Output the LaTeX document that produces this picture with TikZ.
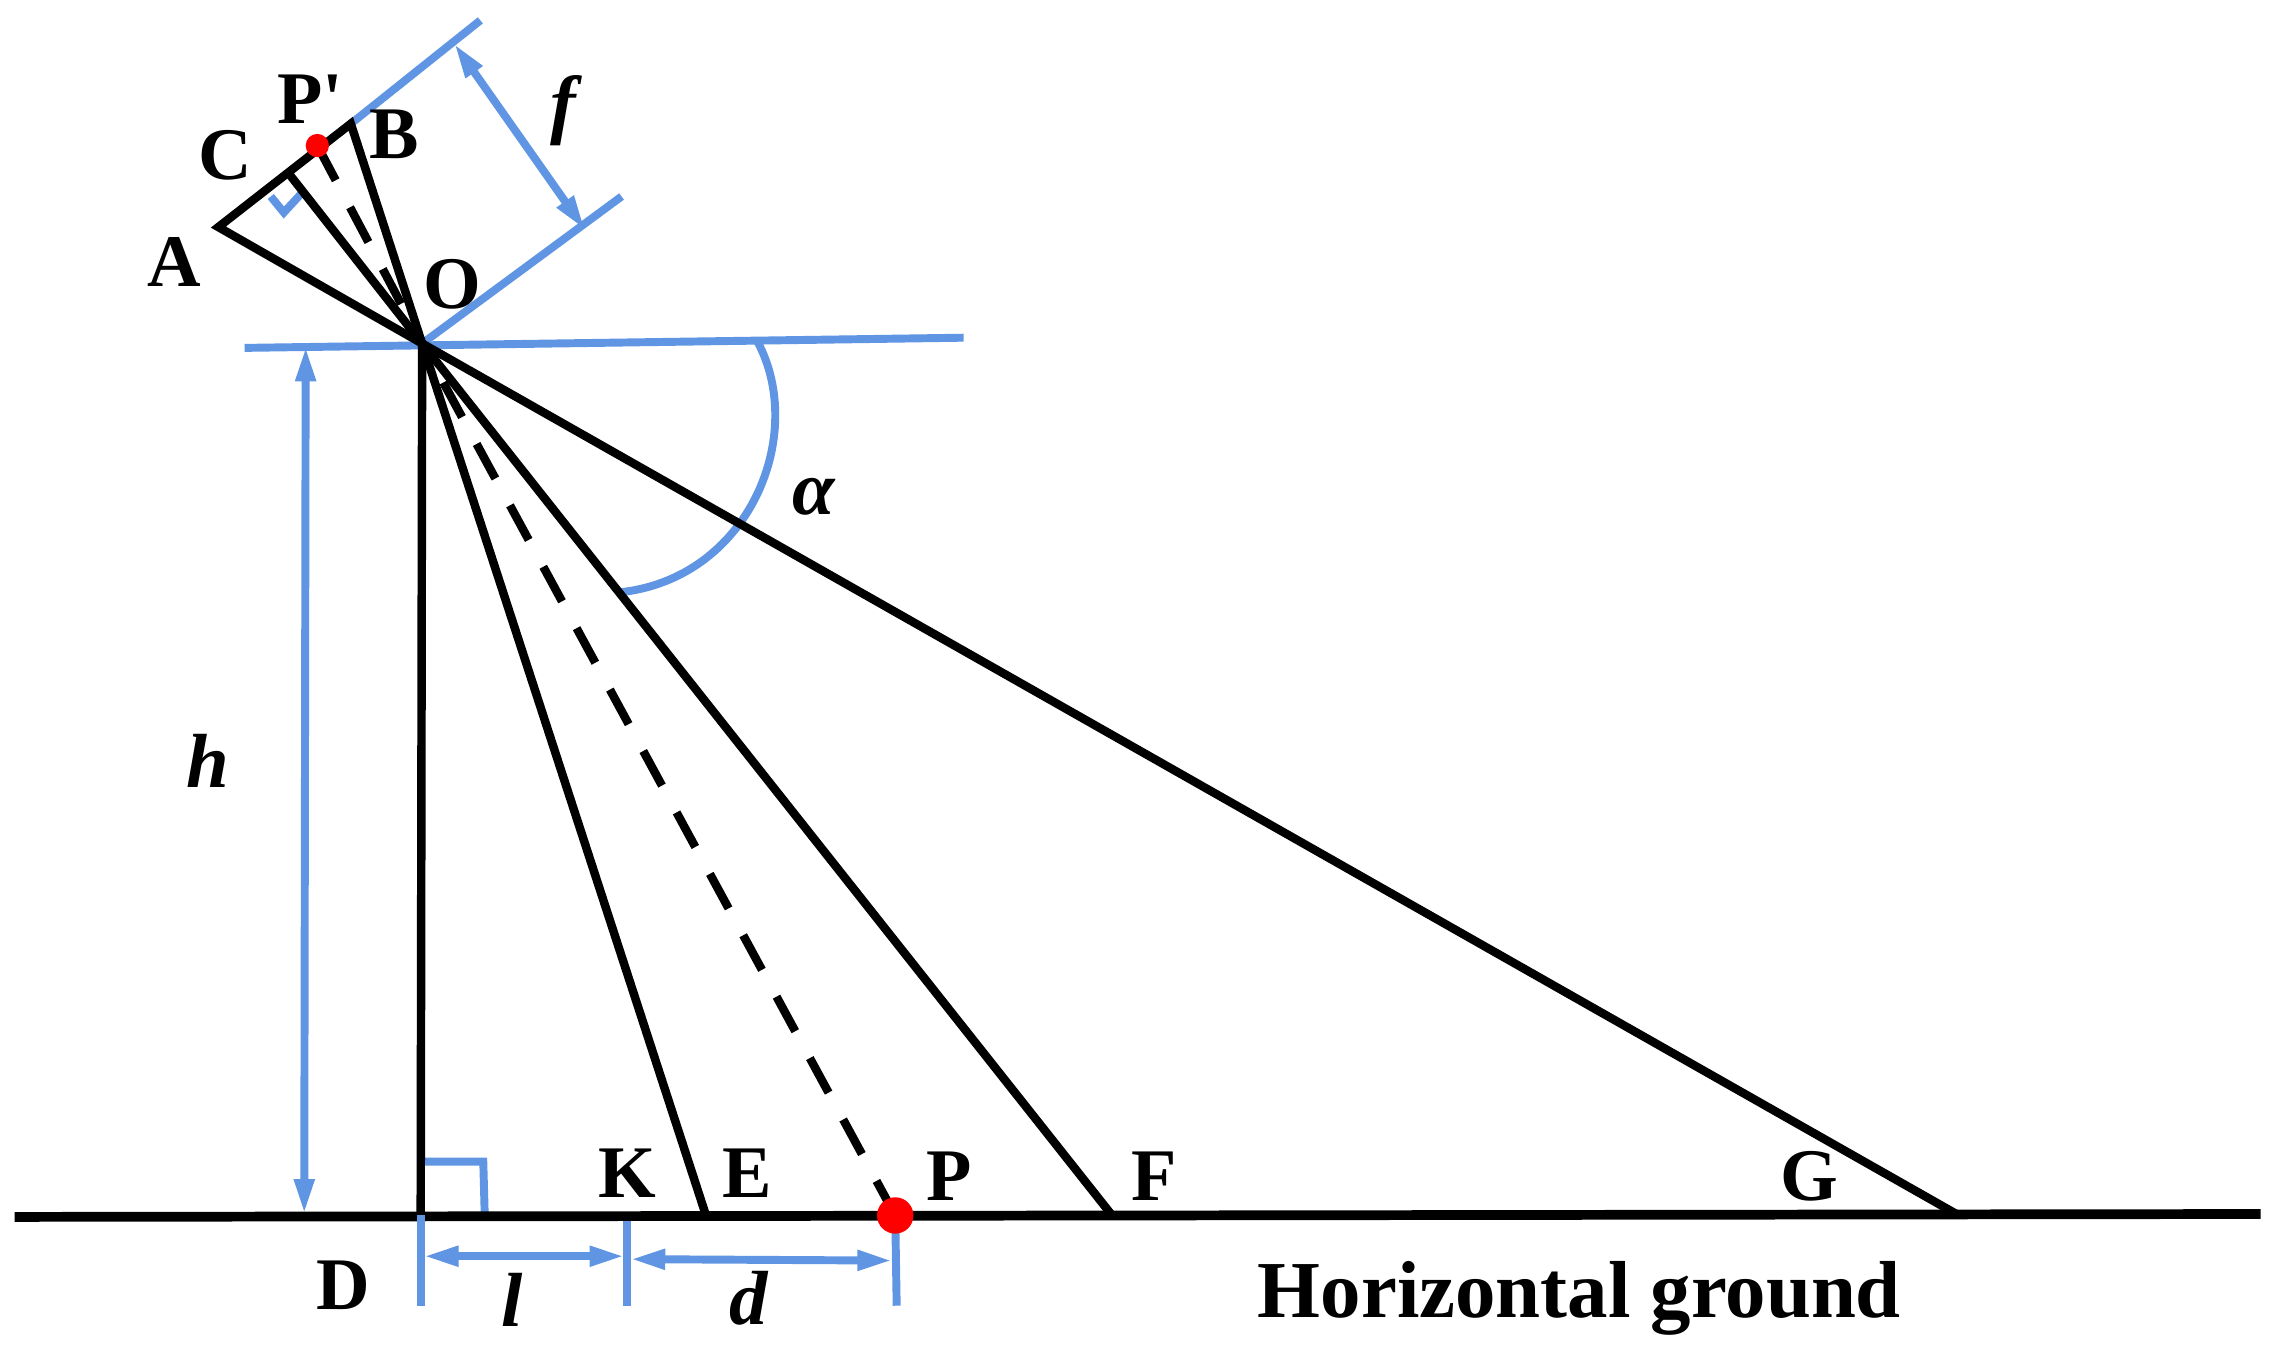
\documentclass[tikz,border=0pt]{standalone}
\usepackage{fontspec}
\setmainfont{Liberation Serif}
\usetikzlibrary{arrows.meta}
\definecolor{dimblue}{HTML}{6095E3}
\tikzset{
 ray/.style={line width=1.65pt,black},
 dash ray/.style={ray,dash pattern=on 2.7mm off 2.1mm},
 dimline/.style={line width=1.55pt,dimblue},
 dimarrow/.style={dimline,{Triangle[length=2.4mm,width=1.3mm]}-{Triangle[length=2.4mm,width=1.3mm]}},
 lbl/.style={inner sep=0pt,font=\fontsize{14.5}{18}\selectfont\bfseries},
 qty/.style={inner sep=0pt,font=\fontsize{15}{18}\selectfont\bfseries\itshape}
}
\begin{document}
\begin{tikzpicture}
 \useasboundingbox (0,-.04) rectangle (15.67,9.28);
 \coordinate (O) at (2.90,6.92);
 \coordinate (A) at (1.50,7.72);
 \coordinate (B) at (2.41,8.43);
 \coordinate (C) at (1.99,8.08);
 \coordinate (Pp) at (2.18,8.28);
 \coordinate (D) at (2.89,.93);
 \coordinate (K) at (4.31,.93);
 \coordinate (E) at (4.85,.93);
 \coordinate (P) at (6.15,.93);
 \coordinate (F) at (7.64,.93);
 \coordinate (G) at (13.44,.94);
 \coordinate (gl) at (.10,.92);
 \coordinate (gr) at (15.53,.94);
 % blue guides
 \coordinate (Btop) at (3.30,9.14);
 \coordinate (Oend) at (4.27,7.93);
 \coordinate (hl) at (1.68,6.89);
 \coordinate (hr) at (6.62,6.96);
 \coordinate (ftop) at (3.12,8.98);
 \coordinate (fbot) at (4.02,7.70);
 \coordinate (htop) at (2.10,6.90);
 \coordinate (hbot) at (2.09,.94);
 \coordinate (Dt) at (2.89,.31);
 \coordinate (Kt) at (4.31,.31);
 \coordinate (Pt) at (6.16,.31);

 \draw[dimline] (B) -- (Btop);
 \draw[dimline] (O) -- (Oend);
 \draw[dimline] (hl) -- (hr);
 \draw[dimarrow] (ftop) -- (fbot);
 \draw[dimarrow] (htop) -- (hbot);
 \draw[dimarrow] (2.91,.65) -- (4.29,.65);
 \draw[dimarrow] (4.33,.63) -- (6.13,.62);
 \draw[dimline] (2.90,1.30) -- (3.32,1.30) -- (3.33,.93);
 \draw[dimline] (1.86,7.93) -- (1.95,7.82) -- (2.07,7.95);
 \draw[dimline] (5.20,6.94) .. controls (5.55,6.30) and (5.15,5.30) .. (4.25,5.21);

 \draw[ray] (A) -- (B) -- (O) -- cycle;
 \draw[ray] (C) -- (O);
 \draw[dash ray] (P) -- (O);
 \draw[dash ray] (Pp) -- (O);
 \draw[ray] (O) -- (D);
 \draw[ray] (O) -- (E);
 \draw[ray] (O) -- (F);
 \draw[ray] (O) -- (G);
 \draw[line width=1.9pt] (gl) -- (gr);

 \draw[dimline] (D) -- (Dt);
 \draw[dimline] (K) ++(0,-.04) -- (Kt);
 \draw[dimline] (P) -- (Pt);

 \fill[red] (Pp) circle (.08);
 \fill[red] (P) circle (.125);

 \node[lbl] (lA) at (1.20,7.48) {A};
 \node[lbl] (lB) at (2.71,8.36) {B};
 \node[lbl] (lC) at (1.55,8.21) {C};
 \node[lbl] (lPp) at (2.13,8.60) {P\textquotesingle};
 \node[lbl] (lO) at (3.11,7.33) {O};
 \node[lbl] (lK) at (4.31,1.22) {K};
 \node[lbl] (lE) at (5.13,1.22) {E};
 \node[lbl] (lP) at (6.52,1.20) {P};
 \node[lbl] (lF) at (7.93,1.20) {F};
 \node[lbl] (lG) at (12.43,1.20) {G};
 \node[lbl] (lD) at (2.36,.45) {D};
 \node[lbl,font=\fontsize{15.8}{18}\selectfont\bfseries] (lground) at (10.85,.36) {Horizontal ground};
 \node[qty] (lf) at (3.87,8.52) {f};
 \node[qty] (lh) at (1.43,4.05) {h};
 \node[qty] (ll) at (3.52,.35) {l};
 \node[qty] (ld) at (5.14,.36) {d};
 \node[qty] (lalpha) at (5.59,5.87) {α};
\end{tikzpicture}
\end{document}
